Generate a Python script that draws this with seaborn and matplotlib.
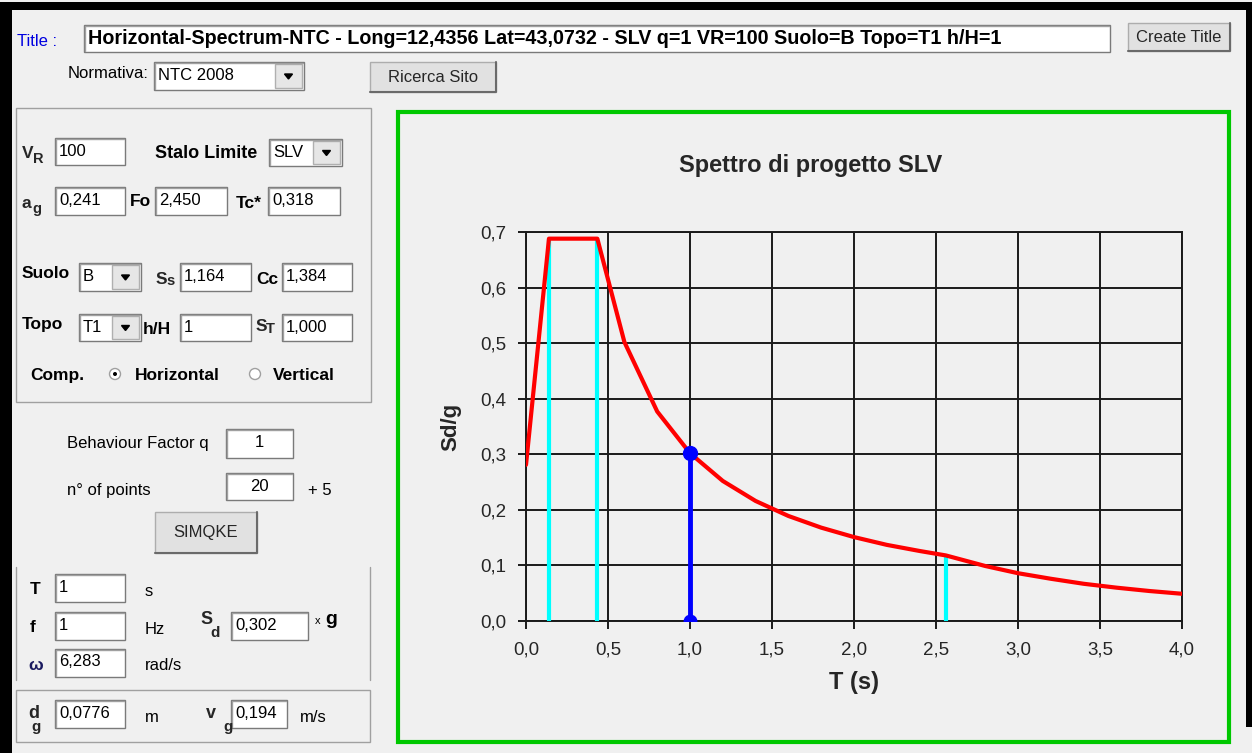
import matplotlib
matplotlib.use("Agg")
import matplotlib.pyplot as plt
import seaborn as sns
from matplotlib.patches import Rectangle, Circle, Polygon
from matplotlib.ticker import FuncFormatter

# spectrum (T in s, Sd/g)
T_VALUES = [0.0, 0.14, 0.435, 0.6, 0.8, 1.0, 1.2, 1.4, 1.6, 1.8, 2.0, 2.2, 2.4,
            2.56, 2.8, 3.0, 3.2, 3.4, 3.6, 3.8, 4.0]
SD_VALUES = [0.281, 0.688, 0.688, 0.502, 0.377, 0.302, 0.252, 0.216, 0.189, 0.168,
             0.151, 0.137, 0.126, 0.118, 0.099, 0.086, 0.076, 0.067, 0.060, 0.054, 0.049]

# corner periods TB, TC, TD (cyan markers)
CORNER_T = [0.14, 0.435, 2.56]
CORNER_SD = [0.688, 0.688, 0.118]

# selected period
SEL_T = 1.0
SEL_SD = 0.302

X_TICKS = [0.0, 0.5, 1.0, 1.5, 2.0, 2.5, 3.0, 3.5, 4.0]
Y_TICKS = [0.0, 0.1, 0.2, 0.3, 0.4, 0.5, 0.6, 0.7]

TITLE_TEXT = "Horizontal-Spectrum-NTC - Long=12,4356 Lat=43,0732 - SLV q=1 VR=100 Suolo=B Topo=T1 h/H=1"

BG = "#F0F0F0"
W, H = 1252, 753
FS = 12     # regular ui text
FB = 12.5   # bold ui labels

sns.set_style("white")
plt.rcParams["font.family"] = ["Liberation Sans", "DejaVu Sans"]

fig = plt.figure(figsize=(W / 100, H / 100), dpi=100, facecolor=BG)
ui = fig.add_axes([0, 0, 1, 1], zorder=0)
ui.set_xlim(0, W)
ui.set_ylim(H, 0)
ui.axis("off")


def textbox(x0, y0, x1, y1, text="", ha="left", bold=False, size=FS):
    ui.add_patch(Rectangle((x0, y0), x1 - x0, y1 - y0, facecolor="white",
                           edgecolor="#7A7A7A", lw=1))
    ui.plot([x0 + 1, x0 + 1, x1 - 1], [y1 - 1, y0 + 1, y0 + 1], color="#A0A0A0", lw=1)
    tx = (x0 + x1) / 2 if ha == "center" else x0 + 4
    ui.text(tx, y0 + 13, text, ha=ha, va="center", fontsize=size,
            fontweight="bold" if bold else "normal", color="black")


def button(x0, y0, x1, y1, text, size=FS):
    ui.add_patch(Rectangle((x0, y0), x1 - x0, y1 - y0, facecolor="#E1E1E1",
                           edgecolor="#ADADAD", lw=1))
    ui.plot([x0, x1, x1], [y1, y1, y0], color="#6A6A6A", lw=1.5)
    ui.text((x0 + x1) / 2, (y0 + y1) / 2, text, ha="center", va="center", fontsize=size)


def combo(x0, y0, x1, y1, text, size=FS):
    textbox(x0, y0, x1, y1, text, size=size)
    bx = x1 - 29
    ui.add_patch(Rectangle((bx, y0 + 2), 27, y1 - y0 - 4, facecolor="#E6E6E6",
                           edgecolor="#B0B0B0", lw=1))
    cx, cy = bx + 13.5, (y0 + y1) / 2
    ui.add_patch(Polygon([(cx - 4, cy - 2), (cx + 4, cy - 2), (cx, cy + 3)],
                         closed=True, facecolor="black", edgecolor="black"))


def groupbox(x0, y0, x1, y1):
    ui.add_patch(Rectangle((x0, y0), x1 - x0, y1 - y0, fill=False,
                           edgecolor="#A0A0A0", lw=1))


def label(x, y, text, size=FS, bold=False, color="black", ha="left"):
    ui.text(x, y, text, ha=ha, va="center", fontsize=size,
            fontweight="bold" if bold else "normal", color=color)


def sublabel(x, y, main, sub, size=FB, dx=11, dy=6):
    ui.text(x, y, main, ha="left", va="center", fontsize=size, fontweight="bold")
    ui.text(x + dx, y + dy, sub, ha="left", va="center", fontsize=size - 2,
            fontweight="bold")


# window frame
ui.add_patch(Rectangle((0, 0), W, H, facecolor=BG, edgecolor="none"))
ui.add_patch(Rectangle((0, 2), W, 8, facecolor="black", edgecolor="none"))
ui.add_patch(Rectangle((0, 2), 12, H, facecolor="black", edgecolor="none"))
ui.add_patch(Rectangle((1246, 2), 6, 725, facecolor="black", edgecolor="none"))

# header row
label(17, 41, "Title :", color="#0000E0")
textbox(84, 25, 1110, 52, TITLE_TEXT, bold=True, size=14.2)
button(1128, 23, 1230, 51, "Create Title")
label(68, 73, "Normativa:")
combo(154, 62, 304, 90, "NTC 2008")
button(370, 62, 496, 92, "Ricerca Sito")

# parameters group
groupbox(16, 108, 371, 402)
sublabel(22, 153, "V", "R", dx=11)
textbox(55, 138, 125, 165, "100")
label(155, 153, "Stalo Limite", size=13, bold=True)
combo(269, 139, 342, 166, "SLV")

sublabel(22, 203, "a", "g", dx=10)
textbox(55, 187, 125, 215, "0,241")
label(130, 201, "Fo", size=FB, bold=True)
textbox(155, 187, 227, 215, "2,450")
label(236, 203, "Tc*", size=FB, bold=True)
textbox(268, 187, 340, 215, "0,318")

label(22, 273, "Suolo", size=FB, bold=True)
combo(79, 263, 141, 291, "B")
sublabel(156, 279, "S", "s", dx=10, dy=2)
textbox(180, 263, 251, 291, "1,164")
label(256, 279, "Cc", size=FB, bold=True)
textbox(282, 263, 352, 291, "1,384")

label(22, 324, "Topo", size=FB, bold=True)
combo(79, 314, 141, 341, "T1")
label(143, 329, "h/H", size=FB, bold=True)
textbox(180, 314, 251, 341, "1")
sublabel(256, 326, "S", "T", dx=10, dy=3)
textbox(282, 314, 352, 341, "1,000")

label(30, 375, "Comp.", size=FB, bold=True)
ui.add_patch(Circle((115, 374), 5.5, facecolor="white", edgecolor="#A0A0A0", lw=1))
ui.add_patch(Circle((115, 374), 2, facecolor="black", edgecolor="none"))
label(135, 375, "Horizontal", size=FB, bold=True)
ui.add_patch(Circle((255, 374), 5.5, facecolor="white", edgecolor="#A0A0A0", lw=1))
label(273, 375, "Vertical", size=FB, bold=True)

# simqke section
label(67, 443, "Behaviour Factor q")
textbox(226, 429, 293, 458, "1", ha="center")
label(67, 490, "n° of points")
textbox(226, 473, 293, 500, "20", ha="center")
label(308, 490, "+ 5")
button(155, 512, 257, 553, "SIMQKE")

# period group
ui.plot([16, 16], [567, 680], color="#A0A0A0", lw=1)
ui.plot([370, 370], [567, 680], color="#A0A0A0", lw=1)
label(30, 590, "T", size=FB, bold=True)
textbox(55, 574, 125, 602, "1")
label(145, 591, "s")
label(30, 628, "f", size=FB, bold=True)
textbox(55, 612, 125, 640, "1")
label(145, 630, "Hz")
sublabel(200, 620, "S", "d", size=13, dx=10, dy=13)
textbox(231, 612, 308, 640, "0,302")
label(315, 621, "x", size=8)
label(325, 620, "g", size=14, bold=True)
label(28, 665, "ω", size=FB, bold=True, color="#1A1A60")
textbox(55, 649, 125, 677, "6,283")
label(145, 665, "rad/s")

# ground motion group
groupbox(16, 690, 370, 742)
sublabel(28, 714, "d", "g", size=13, dx=3, dy=13)
textbox(55, 700, 125, 728, "0,0776")
label(145, 717, "m")
sublabel(206, 714, "v", "g", size=13, dx=17, dy=13)
textbox(231, 700, 287, 728, "0,194")
label(300, 717, "m/s")

# chart frame and title
ui.add_patch(Rectangle((398, 112), 831, 630, fill=False, edgecolor="#00C800", lw=3))
ui.text(811, 165, "Spettro di progetto SLV", ha="center", va="center",
        fontsize=17, fontweight="bold")

# spectrum chart
ax = fig.add_axes([526 / W, 1 - 621 / H, (1182 - 526) / W, (621 - 232) / H], zorder=1)
ax.set_facecolor("none")
ax.set_xlim(0, 4)
ax.set_ylim(0, 0.7)
ax.set_xticks(X_TICKS)
ax.set_yticks(Y_TICKS)
comma = FuncFormatter(lambda v, _: f"{v:.1f}".replace(".", ","))
ax.xaxis.set_major_formatter(comma)
ax.yaxis.set_major_formatter(comma)
ax.grid(True, color="#1A1A1A", lw=1.4)
for side in ax.spines.values():
    side.set_color("#1A1A1A")
    side.set_linewidth(1.4)
ax.tick_params(axis="both", which="major", direction="out", length=6, width=1.4,
               color="#1A1A1A", labelsize=13.5, bottom=True, left=True)
ax.tick_params(axis="x", pad=9)
ax.tick_params(axis="y", pad=8)

ax.vlines(CORNER_T, 0, CORNER_SD, colors="#00FFFF", lw=3, zorder=3)
sns.lineplot(x=T_VALUES, y=SD_VALUES, sort=False, estimator=None, color="red",
             lw=3, ax=ax, zorder=4)
ax.vlines([SEL_T], 0, [SEL_SD], colors="#0000FF", lw=3.5, zorder=5)
ax.plot([SEL_T], [SEL_SD], "o", color="#0000FF", ms=10, zorder=6)
ax.plot([SEL_T], [0], "o", color="#0000FF", ms=9, zorder=6)

ax.set_xlabel("T (s)", fontsize=17, fontweight="bold", labelpad=9)
ax.set_ylabel("Sd/g", fontsize=16, fontweight="bold", labelpad=14)

fig.savefig("out.png", dpi=100, facecolor=BG)
